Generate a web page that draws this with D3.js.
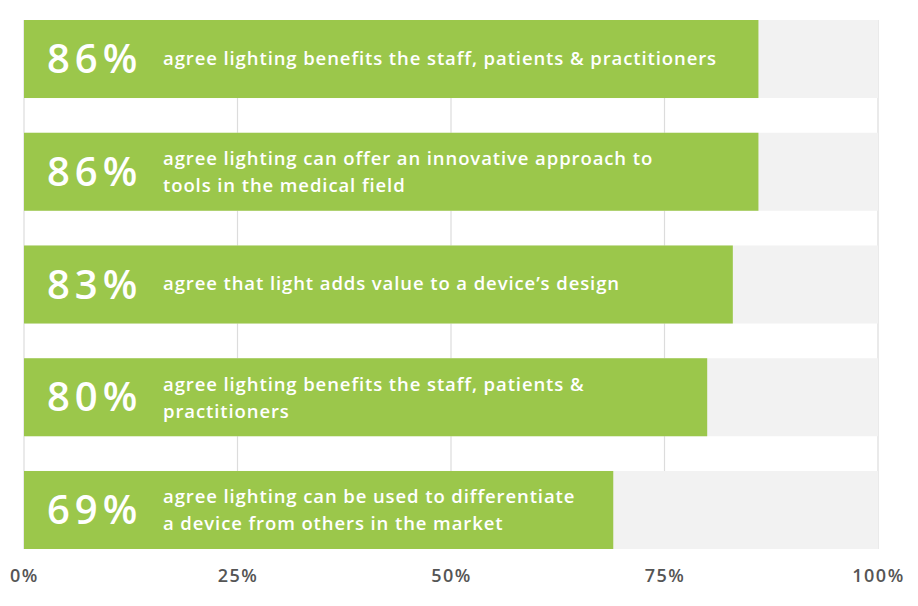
<!DOCTYPE html>
<html>
<head>
<meta charset="utf-8">
<script src="https://cdn.jsdelivr.net/npm/d3@7"></script>
<style>
  body { margin: 0; background: #fff; }
  svg text { font-family: "Open Sans", "Lato", sans-serif; }
</style>
</head>
<body>
<svg id="chart" width="918" height="606"></svg>
<script>
// chart data
const values = [86, 86, 83, 80, 69];
const statements = [
    ['agree lighting benefits the staff, patients & practitioners'],
    ['agree lighting can offer an innovative approach to', 'tools in the medical field'],
    ['agree that light adds value to a device\u2019s design'],
    ['agree lighting benefits the staff, patients &', 'practitioners'],
    ['agree lighting can be used to differentiate', 'a device from others in the market']
];
const tickValues = [0, 25, 50, 75, 100];

const svg = d3.select('#chart');

const x = d3.scaleLinear().domain([0, 100]).range([24, 878]);
const y = d3.scaleBand()
    .domain(d3.range(values.length))
    .range([20, 549])
    .paddingInner(0.308)
    .paddingOuter(0);

// vertical gridlines
svg.append('g')
    .selectAll('line')
    .data(tickValues)
    .enter().append('line')
    .attr('x1', d => x(d))
    .attr('x2', d => x(d))
    .attr('y1', 20)
    .attr('y2', 549)
    .attr('stroke', '#dcdcdc')
    .attr('stroke-width', 1.2);

// grey track behind each bar
svg.append('g')
    .selectAll('rect')
    .data(values)
    .enter().append('rect')
    .attr('x', x(0))
    .attr('y', (d, i) => y(i))
    .attr('width', x(100) - x(0))
    .attr('height', y.bandwidth())
    .attr('fill', '#f2f2f2');

// green bars
svg.append('g')
    .selectAll('rect')
    .data(values)
    .enter().append('rect')
    .attr('x', x(0))
    .attr('y', (d, i) => y(i))
    .attr('width', d => x(d) - x(0))
    .attr('height', y.bandwidth())
    .attr('fill', '#9bc74b');

// big percentage labels
svg.append('g')
    .selectAll('text')
    .data(values)
    .enter().append('text')
    .attr('x', 47)
    .attr('y', (d, i) => y(i) + y.bandwidth() / 2 + 14)
    .attr('fill', '#fff')
    .attr('font-size', 40)
    .attr('font-weight', 600)
    .attr('letter-spacing', 5)
    .text(d => d + '%');

// statement text
const lineGap = 27;
statements.forEach((lines, i) => {
    const cy = y(i) + y.bandwidth() / 2;
    const top = cy - (lines.length - 1) * lineGap / 2 + 5.5 + (lines.length - 1) * 1.5;
    const t = svg.append('text')
        .attr('fill', '#fff')
        .attr('font-size', 18.5)
        .attr('font-weight', 600)
        .attr('letter-spacing', 0.9);
    lines.forEach((ln, j) => {
        t.append('tspan')
            .attr('x', 163)
            .attr('y', top + j * lineGap)
            .text(ln);
    });
});

// bottom axis
const axis = svg.append('g')
    .attr('transform', 'translate(0,549)')
    .call(d3.axisBottom(x).tickValues(tickValues).tickFormat(d => d + '%').tickSize(0).tickPadding(20));
axis.select('.domain').remove();
axis.selectAll('text')
    .attr('fill', '#555')
    .attr('font-size', 18)
    .attr('font-weight', 600)
    .attr('letter-spacing', 1.5)
    .style('font-family', '"Open Sans", sans-serif');
</script>
</body>
</html>
